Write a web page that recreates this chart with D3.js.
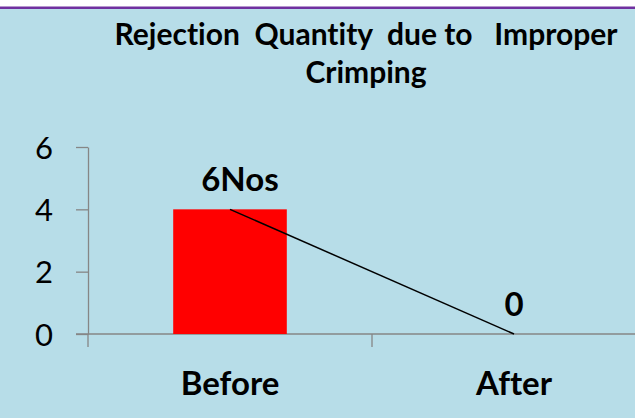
<!DOCTYPE html>
<html>
<head>
<meta charset="utf-8">
<script src="https://cdn.jsdelivr.net/npm/d3@7"></script>
<style>
    body { margin: 0; background: #ffffff; }
    svg { display: block; }
    svg text { font-family: Lato, "Open Sans", sans-serif; font-variant-ligatures: none; }
    .title { font-weight: bold; font-size: 30px; white-space: pre; }
</style>
</head>
<body>
<svg id="svgChart" width="635" height="418"></svg>
<script>
// chart data
var categories  = ["Before", "After"];
var barValues   = [4, 0];
var lineValues  = [4, 0];
var dataLabels  = ["6Nos", "0"];
var yTickValues = [0, 2, 4, 6];
var titleLines  = ["Rejection  Quantity  due to   Improper", "Crimping"];

var width = 635, height = 418;
var margin = {top: 147, left: 88, bottom: 84};

var svg = d3.select("#svgChart");

// background + purple top rule
svg.append("rect")
    .attr("x", 0).attr("y", 7)
    .attr("width", width).attr("height", height - 7)
    .attr("fill", "#b7dde8");
svg.append("rect")
    .attr("x", 0).attr("y", 6.5)
    .attr("width", width).attr("height", 2.5)
    .attr("fill", "#7030a0");

// title
svg.selectAll(".title")
    .data(titleLines)
    .enter().append("text")
    .attr("class", "title")
    .attr("x", 366)
    .attr("y", (d, i) => 45 + i * 38)
    .attr("text-anchor", "middle")
    .text(d => d);

// scales
var x = d3.scaleBand()
    .domain(categories)
    .range([margin.left, margin.left + 2 * 284]);

var y = d3.scaleLinear()
    .domain([0, 6])
    .range([height - margin.bottom, margin.top]);

var axisColor = "#868686";

// y axis
var yAxis = d3.axisLeft(y)
    .tickValues(yTickValues)
    .tickFormat(d3.format("d"))
    .tickSize(12)
    .tickSizeOuter(0)
    .tickPadding(23);

var gy = svg.append("g")
    .attr("transform", "translate(" + margin.left + ",0)")
    .call(yAxis);
gy.select(".domain").attr("stroke", axisColor).attr("stroke-width", 1.3);
gy.selectAll(".tick line").attr("stroke", axisColor).attr("stroke-width", 1.3);
gy.selectAll(".tick text")
    .attr("fill", "#000")
    .attr("dy", "0.36em")
    .style("font-family", "Lato, sans-serif")
    .style("font-size", "31px")
    .style("font-weight", "normal");

// x axis (line + ticks at band boundaries)
var x0 = y(0);
var xAxis = d3.axisBottom(x).tickSize(0).tickPadding(61).tickSizeOuter(0);
var gx = svg.append("g")
    .attr("transform", "translate(0," + x0 + ")")
    .call(xAxis);
gx.select(".domain").remove();
gx.selectAll(".tick text")
    .attr("fill", "#000")
    .attr("dy", "0")
    .style("font-family", "Lato, sans-serif")
    .style("font-size", "33px")
    .style("font-weight", "bold");

svg.append("line")
    .attr("x1", margin.left - 12).attr("x2", width)
    .attr("y1", x0).attr("y2", x0)
    .attr("stroke", axisColor).attr("stroke-width", 1.3);

var bounds = categories.map(c => x(c)).concat([x.range()[1]]);
svg.selectAll(".xtick")
    .data(bounds)
    .enter().append("line")
    .attr("class", "xtick")
    .attr("x1", d => d).attr("x2", d => d)
    .attr("y1", x0).attr("y2", x0 + 13)
    .attr("stroke", axisColor).attr("stroke-width", 1.3);

// bars
var barW = x.bandwidth() * 0.4;
svg.selectAll(".bar")
    .data(barValues)
    .enter().append("rect")
    .attr("class", "bar")
    .attr("x", (d, i) => x(categories[i]) + (x.bandwidth() - barW) / 2)
    .attr("width", barW)
    .attr("y", d => y(d))
    .attr("height", d => y(0) - y(d))
    .attr("fill", "#ff0000");

// line series
var line = d3.line()
    .x((d, i) => x(categories[i]) + x.bandwidth() / 2)
    .y(d => y(d));
svg.append("path")
    .datum(lineValues)
    .attr("d", line)
    .attr("fill", "none")
    .attr("stroke", "#000")
    .attr("stroke-width", 1.5);

// data labels
svg.selectAll(".dlabel")
    .data(dataLabels)
    .enter().append("text")
    .attr("class", "dlabel")
    .attr("x", (d, i) => x(categories[i]) + x.bandwidth() / 2)
    .attr("dx", (d, i) => i === 0 ? 10 : 0)
    .attr("y", (d, i) => y(lineValues[i]) - 18)
    .attr("text-anchor", "middle")
    .style("font-size", "33px")
    .style("font-weight", "bold")
    .text(d => d);
</script>
</body>
</html>
